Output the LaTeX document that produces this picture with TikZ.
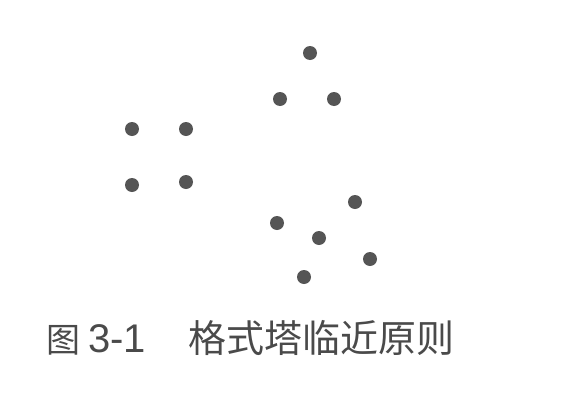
\documentclass[tikz,border=0pt]{standalone}
\usepackage{fontspec}
\newfontfamily\cjk{Noto Sans CJK SC}
\newfontfamily\latn{Liberation Sans}
\definecolor{dotgray}{HTML}{555555}
\definecolor{capgray}{HTML}{4A4A4A}
\tikzset{
  dotnode/.style={circle,fill=dotgray,inner sep=0pt,minimum size=14pt,draw=none},
  caption/.style={anchor=base west,inner sep=0pt,text=capgray}
}
\begin{document}
\begin{tikzpicture}[x=1pt,y=-1pt]
\useasboundingbox (0,0) rectangle (582,402);
% left square group
\node[dotnode] (a1) at (132,129) {};
\node[dotnode] (a2) at (186,129) {};
\node[dotnode] (a3) at (132,185) {};
\node[dotnode] (a4) at (186,182) {};
% top triangle group
\node[dotnode] (b1) at (310,53) {};
\node[dotnode] (b2) at (280,99) {};
\node[dotnode] (b3) at (334,99) {};
% bottom scattered group
\node[dotnode] (c1) at (355,202) {};
\node[dotnode] (c2) at (277,223) {};
\node[dotnode] (c3) at (319,238) {};
\node[dotnode] (c4) at (370,259) {};
\node[dotnode] (c5) at (304,277) {};
% caption
\node[caption] (cap) at (46,352) {\makebox[42pt][l]{\cjk\fontsize{34}{34}\selectfont 图}\makebox[100pt][l]{\latn\fontsize{40}{40}\selectfont 3-1}{\cjk\fontsize{38}{38}\selectfont 格式塔临近原则}};
\end{tikzpicture}
\end{document}
